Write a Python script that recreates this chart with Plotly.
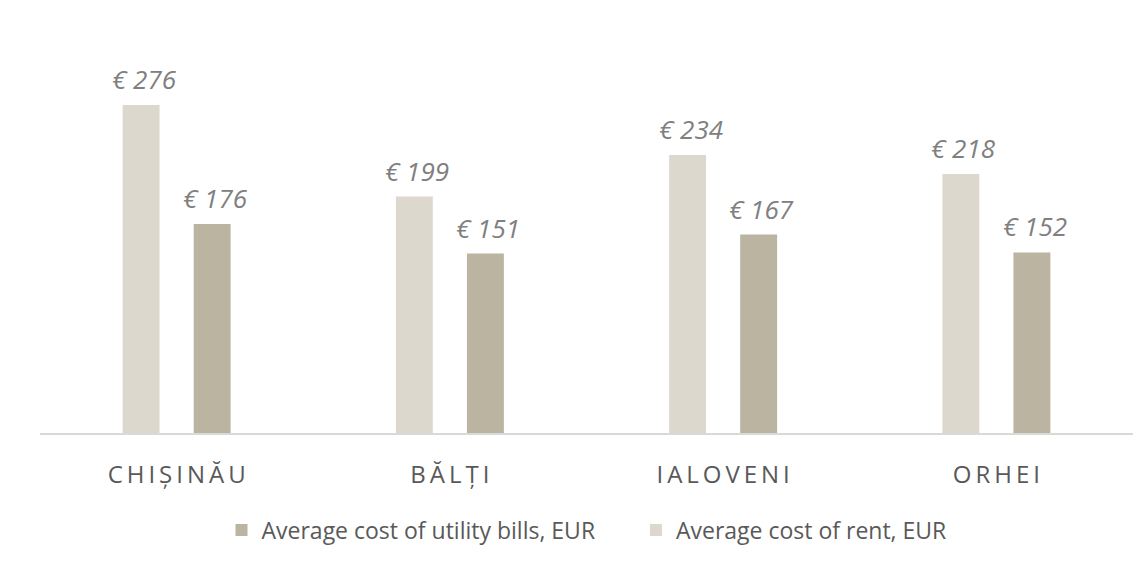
import plotly.graph_objects as go

cities = ["CHIȘINĂU", "BĂLȚI", "IALOVENI", "ORHEI"]
rent = [276, 199, 234, 218]
utilities = [176, 151, 167, 152]

RENT_COLOR = "#ddd8cd"
UTIL_COLOR = "#bab4a1"
FONT = "Open Sans"

def spaced(s):
    return "\u2009".join(list(s))

labels = [spaced(c) for c in cities]

fig = go.Figure()
fig.add_trace(go.Bar(x=labels, y=rent, name="Average cost of rent, EUR",
                     marker=dict(color=RENT_COLOR, line=dict(width=0))))
fig.add_trace(go.Bar(x=labels, y=utilities,
                     name="Average cost of utility bills, EUR" + "\u00a0" * 6,
                     marker=dict(color=UTIL_COLOR, line=dict(width=0))))

cat_px = (1139 - 32 - 14) / 4
for series, shift in ((rent, -0.13), (utilities, 0.13)):
    for lab, v in zip(labels, series):
        fig.add_annotation(x=lab, y=v, text=f"€ {v}", showarrow=False,
                           xshift=shift * cat_px + 3, yshift=26, yanchor="middle",
                           font=dict(family=FONT, size=26, color="#808080", style="italic"))

fig.update_layout(
    width=1139, height=555,
    margin=dict(l=32, r=14, t=32, b=129),
    paper_bgcolor="white", plot_bgcolor="white",
    barmode="group", bargap=0.48, bargroupgap=0.48,
    font=dict(family=FONT, color="#595959"),
    showlegend=True,
    legend=dict(orientation="h", x=0.5, xanchor="center", y=-0.244, yanchor="middle",
                traceorder="reversed", font=dict(size=23, color="#595959"),
                itemwidth=30),
    xaxis=dict(showline=True, linecolor="#d9d9d9", linewidth=2, showgrid=False,
               ticks="", tickfont=dict(size=24, color="#595959"), ticklabelstandoff=19),
    yaxis=dict(visible=False, range=[0, 330.8], showgrid=False, zeroline=False),
)

fig.write_html("out.html")
